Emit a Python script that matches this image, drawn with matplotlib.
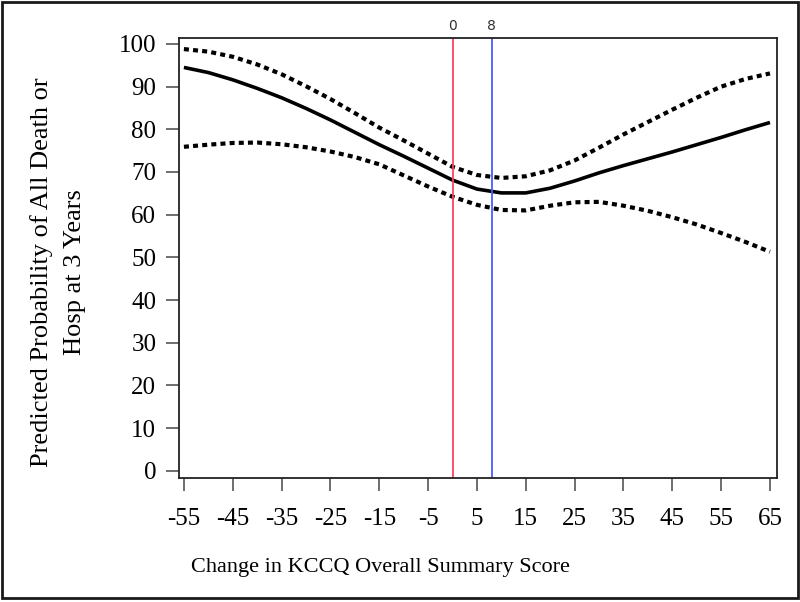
import numpy as np
import matplotlib
matplotlib.use('Agg')
import matplotlib.pyplot as plt
import matplotlib.transforms as mtransforms
from matplotlib.patches import Rectangle

# change in KCCQ score and predicted probability (%)
kccq = [-55, -50, -45, -40, -35, -30, -25, -20, -15, -10, -5, 0, 5,
        10, 15, 20, 25, 30, 35, 40, 45, 50, 55, 60, 65]
prob = [94.5, 93.3, 91.6, 89.6, 87.4, 84.9, 82.2, 79.3, 76.4, 73.7, 70.9, 68.1, 66.0,
        65.1, 65.1, 66.2, 67.9, 69.8, 71.5, 73.1, 74.7, 76.4, 78.1, 79.9, 81.6]
upper = [98.8, 98.2, 97.0, 95.2, 92.9, 90.1, 87.1, 83.8, 80.4, 77.4, 74.3, 71.2, 69.3,
         68.6, 69.0, 70.4, 72.7, 75.7, 78.8, 81.7, 84.6, 87.4, 90.0, 91.8, 93.1]
lower = [75.9, 76.4, 76.8, 76.9, 76.5, 75.8, 74.8, 73.5, 71.8, 69.2, 66.6, 64.2, 62.3,
         61.1, 61.0, 62.1, 62.9, 63.0, 62.1, 60.9, 59.4, 57.7, 55.7, 53.6, 51.3]

ref_lines = [0, 8]
ref_colors = ['#ff4060', '#4a5cff']

xticks = list(range(-55, 66, 10))
yticks = list(range(0, 101, 10))

fig = plt.figure(figsize=(8, 6.02), dpi=100)
ax = fig.add_axes([0.2238, 0.206, 0.971 - 0.2238, 0.9369 - 0.206])

ax.plot(kccq, prob, color='black', lw=2.6, solid_capstyle='butt', solid_joinstyle='round')
ax.plot(kccq, upper, color='black', lw=3, linestyle=(0, (1.2, 1.0)), dash_capstyle='butt')
ax.plot(kccq, lower, color='black', lw=3, linestyle=(0, (1.2, 1.0)), dash_capstyle='butt')

trans = mtransforms.blended_transform_factory(ax.transData, ax.transAxes)
for v, c in zip(ref_lines, ref_colors):
    ax.axvline(v, color=c, lw=1.3)
    ax.text(v, 1.028, str(v), transform=trans, ha='center', va='center',
            fontsize=10, color='#333333', family='DejaVu Sans')

ax.set_xlim(-56.0, 66.4)
ax.set_ylim(-1.7, 101.4)
ax.set_xticks(xticks)
ax.set_yticks(yticks)
ax.set_xticklabels([str(t) for t in xticks], family='Liberation Serif', fontsize=18)
ax.set_yticklabels([str(t) for t in yticks], family='Liberation Serif', fontsize=18)
ax.tick_params(axis='both', direction='out', length=9.4, width=1.2, color='#555555')
ax.tick_params(axis='x', pad=12)
ax.tick_params(axis='y', pad=7)
for s in ax.spines.values():
    s.set_linewidth(1.3)
    s.set_color('#222222')

fig.text(0.476, 0.058, 'Change in KCCQ Overall Summary Score', ha='center', va='center',
         family='Liberation Serif', fontsize=16)
fig.text(0.0725, 0.548, 'Predicted Probability of All Death or\nHosp at 3 Years',
         rotation=90, ha='center', va='center', multialignment='center',
         family='Liberation Serif', fontsize=19, linespacing=1.65)

fig.patches.append(Rectangle((0.002, 0.006), 0.995, 0.99, transform=fig.transFigure,
                             fill=False, edgecolor='#1a1a1a', lw=2))

fig.savefig('out.png', dpi=100)
